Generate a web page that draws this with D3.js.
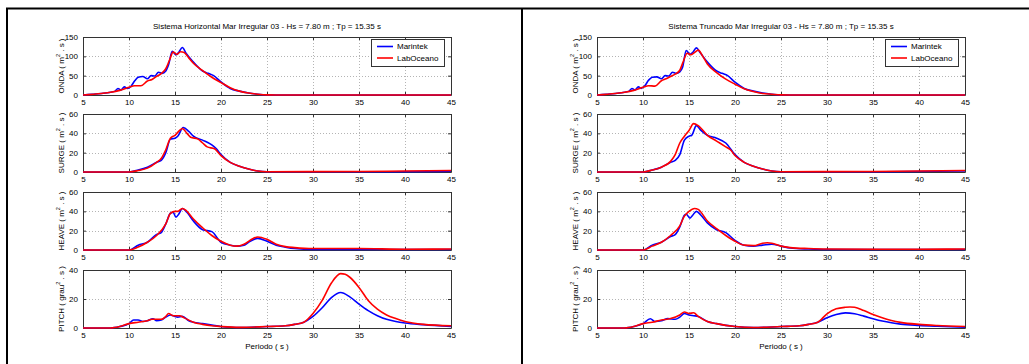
<!DOCTYPE html>
<html>
<head>
<meta charset="utf-8">
<script src="https://cdn.jsdelivr.net/npm/d3@7"></script>
<style>
  html, body { margin: 0; padding: 0; background: #fff; }
  svg { display: block; font-family: "Liberation Sans", Arial, sans-serif; }
</style>
</head>
<body>
<svg id="chart" width="1029" height="364"></svg>
<script>
// ---- data: spectra versus period (s), points given as [periodo, valor] ----
const periodTicks = [5, 10, 15, 20, 25, 30, 35, 40, 45];
const ondaTicks = [0, 50, 100, 150];
const surgeTicks = [0, 20, 40, 60];
const heaveTicks = [0, 20, 40, 60];
const pitchTicks = [0, 20, 40];

const seriesNames = ["Marintek", "LabOceano"];
const panelTitles = [
  "Sistema Horizontal Mar Irregular 03 - Hs = 7.80 m ; Tp = 15.35 s",
  "Sistema Truncado Mar Irregular 03 - Hs = 7.80 m ; Tp = 15.35 s"
];

// Sistema Horizontal
const ondaHorMarintek = [[5,0],[6,2],[7,4],[8,7],[8.5,10],[8.8,17],[9.1,13],[9.5,21],[9.8,17],[10.2,22],[10.6,36],[11,46],[11.5,48],[12,42],[12.4,50],[12.8,49],[13.2,59],[13.6,56],[14,62],[14.3,78],[14.7,113],[15.1,104],[15.4,110],[15.8,123],[16.2,108],[17,85],[18,62],[18.6,56],[19.2,50],[20,34],[21,17],[22,10],[23,5],[24,2],[25,0.3],[26,0],[45,0]];
const ondaHorLabOceano = [[5,0],[7,4],[8,7],[9,12],[10,20],[10.6,24],[11.3,24],[12,36],[12.5,40],[13,48],[13.5,55],[14,68],[14.4,90],[14.8,111],[15.2,105],[15.6,112],[16,110],[16.5,96],[17,82],[18,63],[19,46],[20,32],[21,19],[22,10],[23,5],[24,2],[25,0.3],[26,0],[45,0]];
const surgeHorMarintek = [[5,0],[10,0],[11,2],[12,5],[13,10],[13.5,12],[14,20],[14.5,34],[15,35],[15.3,37],[15.9,46],[16.5,42],[17,37],[18,33],[19,28],[19.5,24],[20,18],[21,10],[22,6],[23,3],[24,1],[25,0.3],[35,0.3],[43.5,0.5],[45,0.8]];
const surgeHorLabOceano = [[5,0],[10,0],[11,1.5],[12,4],[13,10],[13.5,14],[14,23],[14.5,35],[15,38],[15.5,43],[15.8,45],[16.3,40],[16.7,36],[17.5,34],[18,30],[18.5,26],[19.3,24],[20,17],[21,10],[22,6],[23,3],[24,1],[25,0.3],[35,0.5],[40,1],[45,1.5]];
const heaveHorMarintek = [[5,0],[10,0],[11,5],[12,8],[13,16],[13.5,18],[14,27],[14.5,38],[14.8,39],[15.1,34],[15.4,37],[15.8,43],[16.3,39],[17,30],[18,21],[19,19],[20,8],[21,5],[21.7,4],[22.5,5],[23,8],[24,12],[25,9],[26,5],[27,3],[28,1.5],[30,0.5],[45,0.5]];
const heaveHorLabOceano = [[5,0],[10,0],[11,3],[12,8],[13,15],[14,27],[14.5,38],[15,40],[15.3,40],[15.8,43],[16.2,41],[17,32],[18,23],[19,15],[20,9],[21,5],[21.7,4],[22.5,6],[23.5,12],[24,13.5],[25,11],[26,6],[27,3.5],[28,2.5],[30,1.5],[35,1.5],[40,0.8],[45,1]];
const pitchHorMarintek = [[5,0],[8,0],[9,1],[10,3],[10.5,5.5],[11,5.5],[11.5,4.5],[12,5],[12.6,6.4],[13,5],[13.5,5.5],[14,7.5],[14.5,9],[15,8],[15.3,7.5],[15.8,8],[16.5,5],[17,4],[18,3],[19,2],[20,1],[21,0.5],[22,0.3],[25,1],[26,1.2],[27,1.5],[28,2.5],[29,4],[30,8],[31,14],[32,21],[33,24.5],[34,21.5],[35,16.5],[36,12],[37,8.5],[38,6],[39,4.5],[40,3.5],[42,2.3],[45,1]];
const pitchHorLabOceano = [[5,0],[8,0],[9,1],[10,3],[11,4],[12,5],[12.5,6],[13,6],[13.5,6],[14,8],[14.3,10],[14.8,8.5],[15.5,8.5],[16,7],[17,4],[18,2.5],[19,1.5],[20,1],[22,0.4],[25,1],[27,1.5],[28,2.5],[29,4],[30,10],[31,19],[32,31],[33,37.5],[33.5,37],[34,35],[35,28],[36,19],[37,13],[38,9],[39,6.5],[40,4.5],[42,2.5],[45,1.5]];

// Sistema Truncado
const ondaTrunMarintek = [[5,0],[6,2],[7,4],[8,7],[8.5,10],[8.8,17],[9.1,13],[9.5,21],[9.8,17],[10.2,24],[10.6,38],[11,46],[11.5,47],[12,42],[12.4,50],[12.8,49],[13.2,59],[13.6,56],[14,60],[14.3,72],[14.7,115],[15.1,105],[15.4,110],[15.8,122],[16.2,110],[17,85],[18,62],[18.6,56],[19.2,50],[20,33],[21,17],[22,10],[23,5],[24,2],[25,0.3],[26,0],[45,0]];
const ondaTrunLabOceano = [[5,0],[7,4],[8,7],[9,12],[10,20],[10.6,24],[11.3,23],[12,37],[12.5,42],[13,48],[13.5,54],[14,64],[14.4,88],[14.8,108],[15.2,104],[15.6,110],[16,116],[16.5,100],[17,80],[18,58],[19,41],[20,28],[21,16],[22,9],[23,4],[24,2],[25,0.3],[26,0],[45,0]];
const surgeTrunMarintek = [[5,0],[10,0],[11,2],[12,5],[13,10],[13.5,12],[14,18],[14.5,33],[15,37],[15.3,38],[15.8,48],[16.3,43],[17,38],[18,35],[19,30],[20,18],[21,10],[22,6],[23,3],[24,1],[25,0.3],[35,0.3],[45,1]];
const surgeTrunLabOceano = [[5,0],[10,0],[11,2],[12,5],[13,11],[13.5,18],[14,30],[14.5,37],[15,43],[15.5,50],[16,48],[17,38],[18,32],[19,26],[19.5,23],[20,17],[21,10],[22,6],[23,3],[24,1],[25,0.3],[35,0.5],[45,1.5]];
const heaveTrunMarintek = [[5,0],[10,0],[11,5],[12,8],[13,14],[13.5,16],[14,24],[14.5,36],[14.7,37],[15.1,33],[15.4,36],[15.8,40],[16.3,36],[17,28],[18,21],[19,18],[20,10],[21,5],[22,4],[23,5],[24,6],[25,4],[26,2],[28,1],[30,0.5],[45,0.5]];
const heaveTrunLabOceano = [[5,0],[10,0],[11,4],[12,8],[13,15],[14,25],[14.5,35],[15,40],[15.6,43],[16,42],[17,30],[18,22],[19,15],[20,9],[21,5],[22,4.5],[23,7],[23.5,7.5],[24,7],[25,4],[26,2.5],[28,1.5],[30,1],[40,0.8],[45,1]];
const pitchTrunMarintek = [[5,0],[8,0],[9,1],[10,3],[10.8,6.4],[11.3,4.5],[12,5],[12.7,6.5],[13.5,6],[14,7.5],[14.5,10],[15,9],[15.5,8.5],[16,8],[17,4.5],[18,3],[19,1.8],[20,1],[22,0.3],[25,1],[27,1.5],[28,2.5],[29,4],[30,7],[31,9.3],[32,10.4],[33,9.8],[34,8.2],[35,6.4],[36,4.8],[37,3.6],[38,2.7],[40,1.8],[42,1.2],[45,0.5]];
const pitchTrunLabOceano = [[5,0],[8,0],[9,1],[10,3],[11,4],[12,5.5],[13,6.5],[14,9],[14.5,11],[15,10],[15.5,10.5],[16,8],[17,4.5],[18,3],[20,1],[22,0.3],[25,1],[27,1.5],[28,2.5],[29,4],[30,9.8],[31,13.2],[32,14.3],[32.5,14.5],[33,14.3],[34,12],[35,9.3],[36,7],[37,5.2],[38,3.9],[40,2.5],[42,1.7],[45,1]];

// ---- layout ----
const colors = ["#0000ff", "#ff0000"];
const xDomain = [5, 45];
const columns = [
  { x0: 83, x1: 451, title: panelTitles[0],
    data: [[ondaHorMarintek, ondaHorLabOceano], [surgeHorMarintek, surgeHorLabOceano],
           [heaveHorMarintek, heaveHorLabOceano], [pitchHorMarintek, pitchHorLabOceano]] },
  { x0: 597, x1: 965, title: panelTitles[1],
    data: [[ondaTrunMarintek, ondaTrunLabOceano], [surgeTrunMarintek, surgeTrunLabOceano],
           [heaveTrunMarintek, heaveTrunLabOceano], [pitchTrunMarintek, pitchTrunLabOceano]] }
];
const rows = [
  { label: "ONDA", unit: "m", ticks: ondaTicks, top: 37, bottom: 95 },
  { label: "SURGE", unit: "m", ticks: surgeTicks, top: 114, bottom: 172 },
  { label: "HEAVE", unit: "m", ticks: heaveTicks, top: 192, bottom: 250 },
  { label: "PITCH", unit: "grau", ticks: pitchTicks, top: 270, bottom: 328 }
];

const svg = d3.select("#chart");
const fontSize = 8;

// frame lines around the two figures
svg.append("rect").attr("x", 0).attr("y", 0).attr("width", 1029).attr("height", 364).attr("fill", "#fff");
svg.append("line").attr("x1", 6).attr("x2", 1029).attr("y1", 8.5).attr("y2", 8.5).attr("stroke", "#000").attr("stroke-width", 2);
svg.append("line").attr("x1", 7).attr("x2", 7).attr("y1", 8).attr("y2", 364).attr("stroke", "#000").attr("stroke-width", 2);
svg.append("line").attr("x1", 522).attr("x2", 522).attr("y1", 8).attr("y2", 364).attr("stroke", "#000").attr("stroke-width", 2);

columns.forEach(col => {
  const g = svg.append("g");
  const x = d3.scaleLinear().domain(xDomain).range([col.x0, col.x1]);
  const cx = (col.x0 + col.x1) / 2;

  g.append("text").attr("x", cx).attr("y", 29).attr("text-anchor", "middle")
    .attr("font-size", fontSize).text(col.title);

  rows.forEach((row, ri) => {
    const y = d3.scaleLinear().domain([row.ticks[0], row.ticks[row.ticks.length - 1]])
      .range([row.bottom, row.top]);
    const ax = g.append("g");

    // dotted grid
    ax.selectAll(".gx").data(periodTicks.slice(1, -1)).join("line")
      .attr("x1", d => x(d) + 0.5).attr("x2", d => x(d) + 0.5)
      .attr("y1", row.top).attr("y2", row.bottom)
      .attr("stroke", "#b4b4b4").attr("stroke-width", 1).attr("stroke-dasharray", "1,2");
    ax.selectAll(".gy").data(row.ticks.slice(1, -1)).join("line")
      .attr("x1", col.x0).attr("x2", col.x1)
      .attr("y1", d => Math.round(y(d)) + 0.5).attr("y2", d => Math.round(y(d)) + 0.5)
      .attr("stroke", "#b4b4b4").attr("stroke-width", 1).attr("stroke-dasharray", "1,2");

    // axes: bottom and left with labels, inward ticks on all four sides
    const bottomAxis = d3.axisBottom(x).tickValues(periodTicks).tickSizeInner(-3).tickSizeOuter(0).tickPadding(4);
    const leftAxis = d3.axisLeft(y).tickValues(row.ticks).tickSizeInner(-3).tickSizeOuter(0).tickPadding(5);
    const topAxis = d3.axisTop(x).tickValues(periodTicks).tickSizeInner(-3).tickSizeOuter(0).tickFormat("");
    const rightAxis = d3.axisRight(y).tickValues(row.ticks).tickSizeInner(-3).tickSizeOuter(0).tickFormat("");

    [[bottomAxis, `translate(0,${row.bottom})`], [leftAxis, `translate(${col.x0},0)`],
     [topAxis, `translate(0,${row.top})`], [rightAxis, `translate(${col.x1},0)`]].forEach(([a, t]) => {
      const s = ax.append("g").attr("transform", t).call(a);
      s.select(".domain").attr("stroke", "#333");
      s.selectAll(".tick line").attr("stroke", "#333");
      s.selectAll("text").attr("font-size", fontSize).attr("fill", "#000")
        .attr("font-family", "'Liberation Sans', Arial, sans-serif");
    });

    // y label with superscript
    const lx = col.x0 - 22, ly = (row.top + row.bottom) / 2;
    const t = ax.append("text").attr("transform", `translate(${lx},${ly}) rotate(-90)`)
      .attr("text-anchor", "middle").attr("font-size", fontSize).attr("dy", "0.35em");
    t.append("tspan").text(`${row.label} ( ${row.unit}`);
    t.append("tspan").attr("dy", -3.5).attr("font-size", 5.5).text("2");
    t.append("tspan").attr("dy", 3.5).text(" . s )");

    // curves
    const line = d3.line().x(d => x(d[0])).y(d => y(d[1])).curve(d3.curveMonotoneX);
    col.data[ri].forEach((pts, si) => {
      ax.append("path").datum(pts).attr("d", line).attr("fill", "none")
        .attr("stroke", colors[si]).attr("stroke-width", 1.6).attr("stroke-linejoin", "round");
    });

    // legend in the first row
    if (ri === 0) {
      const lg = ax.append("g").attr("transform", `translate(${col.x1 - 80},${row.top + 2})`);
      lg.append("rect").attr("x", 0.5).attr("y", 0.5).attr("width", 73).attr("height", 27)
        .attr("fill", "#fff").attr("stroke", "#333");
      seriesNames.forEach((name, i) => {
        const yy = 7.5 + i * 11.5;
        lg.append("line").attr("x1", 6).attr("x2", 22).attr("y1", yy).attr("y2", yy)
          .attr("stroke", colors[i]).attr("stroke-width", 1.6);
        lg.append("text").attr("x", 26).attr("y", yy).attr("dy", "0.35em")
          .attr("font-size", fontSize).text(name);
      });
    }
  });

  g.append("text").attr("x", cx).attr("y", 349).attr("text-anchor", "middle")
    .attr("font-size", fontSize).text("Periodo ( s )");
});
</script>
</body>
</html>
